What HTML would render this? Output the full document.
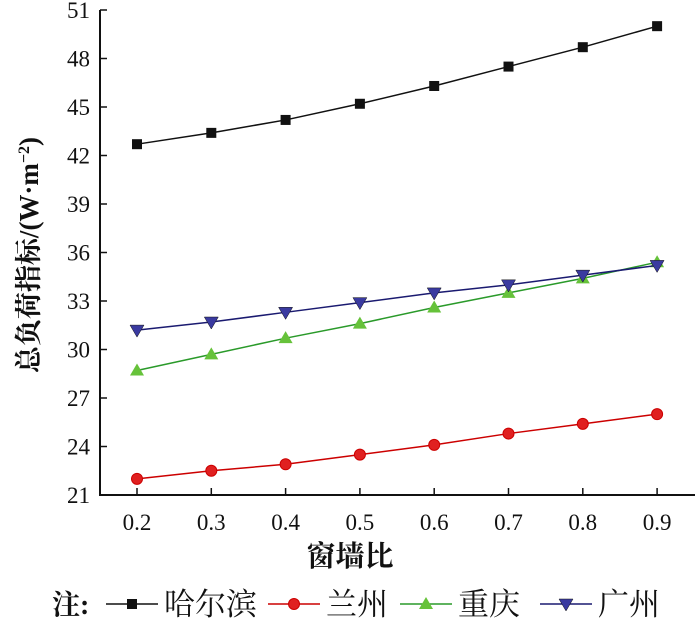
<!DOCTYPE html>
<html><head><meta charset="utf-8"><style>
body{margin:0;background:#fff;}
svg text{font-family:"Liberation Serif","Noto Serif CJK SC",serif;fill:#111;}
</style></head><body>
<svg width="700" height="627">
<g id="axes"></g><g id="series"></g>
<text x="350" y="566" text-anchor="middle" font-size="29" font-weight="bold">窗墙比</text>
<text transform="translate(38,255) rotate(-90)" text-anchor="middle" font-size="27" font-weight="bold">总负荷指标/(W·m<tspan font-size="16" dy="-9">−2</tspan><tspan dy="9">)</tspan></text>
<g id="legend"></g>
</svg>
<script>
const categories=[0.2,0.3,0.4,0.5,0.6,0.7,0.8,0.9];
const yTicks=[21,24,27,30,33,36,39,42,45,48,51];
const harbin=[42.7,43.4,44.2,45.2,46.3,47.5,48.7,50.0];
const lanzhou=[22.0,22.5,22.9,23.5,24.1,24.8,25.4,26.0];
const chongqing=[28.7,29.7,30.7,31.6,32.6,33.5,34.4,35.4];
const guangzhou=[31.2,31.7,32.3,32.9,33.5,34.0,34.6,35.2];
const names=['哈尔滨','兰州','重庆','广州'];
const NS='http://www.w3.org/2000/svg';
const X=v=>137+(v-0.2)/0.1*74.3;
const Y=v=>495-(v-21)/30*485;
function mk(t,a,p){const e=document.createElementNS(NS,t);for(const k in a)e.setAttribute(k,a[k]);p.appendChild(e);return e;}
const ax=document.getElementById('axes');
let l=mk('path',{d:`M100 ${Y(51)}V${Y(21)}H695`,stroke:'#111','stroke-width':2,fill:'none'},ax);


yTicks.forEach(t=>{mk('line',{x1:100,x2:107,y1:Y(t),y2:Y(t),stroke:'#111','stroke-width':1.5},ax);
const tx=mk('text',{x:90,y:Y(t)+8,'text-anchor':'end','font-size':23},ax);tx.textContent=t;

});
categories.forEach(c=>{mk('line',{x1:X(c),x2:X(c),y1:Y(21),y2:Y(21)-7,stroke:'#111','stroke-width':1.5},ax);
const tx=mk('text',{x:X(c),y:530,'text-anchor':'middle','font-size':23},ax);tx.textContent=c.toFixed(1);

});
const sg=document.getElementById('series');
const styles=[{c:'#111',f:'#111',m:'sq'},{c:'#c00',f:'#e02020',m:'ci'},{c:'#2a9a2a',f:'#66c23a',m:'tu'},{c:'#1a1a70',f:'#3a3aa0',m:'td'}];
function marker(m,x,y,s,p){
 if(m==='sq')return mk('rect',{x:x-5,y:y-5,width:10,height:10,fill:s.f},p);
 if(m==='ci')return mk('circle',{cx:x,cy:y,r:5.5,fill:s.f,stroke:s.c},p);
 if(m==='tu')return mk('path',{d:`M${x} ${y-7}L${x+7} ${y+5}L${x-7} ${y+5}Z`,fill:s.f},p);
 return mk('path',{d:`M${x-7} ${y-5}L${x+7} ${y-5}L${x} ${y+7}Z`,fill:s.f,stroke:'#111','stroke-width':0.5},p);
}
[harbin,lanzhou,chongqing,guangzhou].forEach((d,i)=>{const s=styles[i];
 const g=mk('g',{},sg);
 
 
 mk('polyline',{points:d.map((v,j)=>X(categories[j])+','+Y(v)).join(' '),fill:'none',stroke:s.c,'stroke-width':1.5},g);
 d.forEach((v,j)=>{const m=marker(s.m,X(categories[j]),Y(v),s,g);
 
 });
});
const lg=document.getElementById('legend');
const t0=mk('text',{x:52,y:614,'font-size':28,'font-weight':'bold'},lg);t0.textContent='注:';
const lx=[106,268,400,540];
names.forEach((n,i)=>{const s=styles[i];const x=lx[i];
 const g=mk('g',{},lg);
 
 
 mk('line',{x1:x,x2:x+52,y1:604,y2:604,stroke:s.c,'stroke-width':1.5},g);
 marker(s.m,x+26,604,s,g);
 const t=mk('text',{x:x+58,y:615,'font-size':31},g);t.textContent=n;});
</script>
</body></html>
